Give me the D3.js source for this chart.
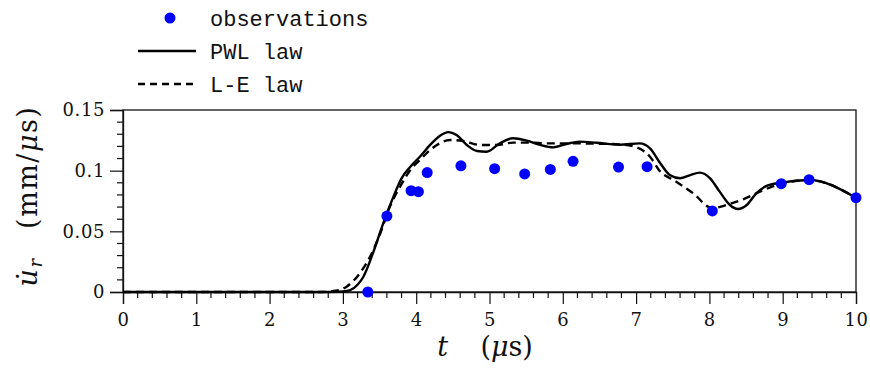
<!DOCTYPE html>
<html>
<head>
<meta charset="utf-8">
<script src="https://cdn.jsdelivr.net/npm/d3@7"></script>
<style>
  body { margin: 0; background: #fff; }
  svg { display: block; }
</style>
</head>
<body>
<svg id="chart" width="870" height="374"></svg>
<script>
// observations (blue dots)
const obsT = [3.34, 3.60, 3.93, 4.03, 4.15, 4.61, 5.07, 5.48, 5.83, 6.14, 6.76, 7.15, 8.04, 8.98, 9.36, 10.0];
const obsV = [0.0, 0.0626, 0.0835, 0.0827, 0.0984, 0.104, 0.1016, 0.0973, 0.101, 0.1077, 0.103, 0.1033, 0.0668, 0.0893, 0.0926, 0.0777];

// PWL law (solid)
const pwlT = [0, 2.8, 3.0, 3.1, 3.2, 3.28, 3.41, 3.55, 3.69, 3.80, 3.92, 4.05, 4.19, 4.32, 4.44, 4.55, 4.69, 4.83, 4.96, 5.14, 5.32, 5.51, 5.69, 5.87, 6.05, 6.23, 6.46, 6.78, 7.05, 7.19, 7.33, 7.46, 7.60, 7.74, 7.87, 8.01, 8.14, 8.28, 8.39, 8.51, 8.64, 8.78, 8.98, 9.36, 10];
const pwlV = [0, 0, 0.0005, 0.0016, 0.006, 0.0126, 0.032, 0.0566, 0.0786, 0.0937, 0.1033, 0.1115, 0.1212, 0.1286, 0.1318, 0.1294, 0.1212, 0.1162, 0.1156, 0.1225, 0.1267, 0.1247, 0.1212, 0.1192, 0.1220, 0.1239, 0.123, 0.1214, 0.1225, 0.1184, 0.1061, 0.0964, 0.0937, 0.0964, 0.0984, 0.0937, 0.0827, 0.0717, 0.0684, 0.0717, 0.0813, 0.0874, 0.0901, 0.0923, 0.0777];

// L-E law (dashed)
const leT = [0, 2.7, 2.9, 3.05, 3.23, 3.37, 3.51, 3.64, 3.78, 3.92, 4.05, 4.19, 4.32, 4.46, 4.64, 4.87, 5.10, 5.32, 5.55, 5.78, 6.01, 6.23, 6.46, 6.78, 7.01, 7.19, 7.33, 7.51, 7.78, 8.04, 8.23, 8.46, 8.69, 8.92, 9.36, 10];
const leV = [0, 0, 0.001, 0.0044, 0.0154, 0.029, 0.0484, 0.0703, 0.0868, 0.1006, 0.1088, 0.117, 0.1225, 0.1253, 0.1245, 0.1212, 0.1212, 0.1231, 0.1231, 0.1225, 0.1225, 0.1225, 0.1222, 0.1217, 0.1192, 0.1115, 0.0992, 0.0923, 0.0813, 0.069, 0.0717, 0.0764, 0.0827, 0.0882, 0.0923, 0.0777];

const xTicks = [0, 1, 2, 3, 4, 5, 6, 7, 8, 9, 10];
const yTicks = [0, 0.05, 0.1, 0.15];
const yTickLabels = ['0', '0.05', '0.1', '0.15'];
const legendNames = ['observations', 'PWL law', 'L-E law'];

const margin = {top: 110, right: 14, bottom: 82, left: 123};
const W = 870, H = 374;
const svg = d3.select('#chart');

const x = d3.scaleLinear().domain([0, 10]).range([margin.left, W - margin.right]);
const y = d3.scaleLinear().domain([0, 0.15]).range([H - margin.bottom, margin.top]);

const serif = '"DejaVu Serif", serif';
const mono = '"Liberation Mono", monospace';

// frame
svg.append('rect')
  .attr('x', x(0)).attr('y', y(0.15))
  .attr('width', x(10) - x(0)).attr('height', y(0) - y(0.15))
  .attr('fill', 'none').attr('stroke', '#111').attr('stroke-width', 1.3);

// minor ticks
const xMinor = d3.range(0, 10.001, 0.2).filter(v => Math.abs(v - Math.round(v)) > 1e-6);
const yMinor = d3.range(0, 0.1501, 0.01).filter(v => Math.abs(v / 0.05 - Math.round(v / 0.05)) > 1e-6);

const xAxis = svg.append('g').attr('transform', `translate(0, ${y(0)})`)
  .call(d3.axisBottom(x).tickValues(xTicks).tickSize(12).tickPadding(9).tickFormat(d3.format('d')));
xAxis.append('g').selectAll('line').data(xMinor).enter().append('line')
  .attr('x1', d => x(d)).attr('x2', d => x(d)).attr('y1', 0).attr('y2', 6);

const yAxis = svg.append('g').attr('transform', `translate(${x(0)}, 0)`)
  .call(d3.axisLeft(y).tickValues(yTicks).tickSize(13).tickPadding(5).tickFormat((d, i) => yTickLabels[i]));
yAxis.append('g').selectAll('line').data(yMinor).enter().append('line')
  .attr('x1', -6).attr('x2', 0).attr('y1', d => y(d)).attr('y2', d => y(d));

svg.selectAll('.domain').attr('stroke', '#111').attr('stroke-width', 1.3);
xAxis.selectAll('line').attr('stroke', '#111').attr('stroke-width', 1.2);
yAxis.selectAll('line').attr('stroke', '#111').attr('stroke-width', 1.2);
svg.selectAll('.tick text').attr('font-family', serif).attr('font-size', 18).attr('fill', '#111').attr('letter-spacing', 0.6);

// curves
const line = d3.line().x(d => x(d[0])).y(d => y(d[1])).curve(d3.curveMonotoneX);
const le = leT.map((t, i) => [t, leV[i]]);
const pwl = pwlT.map((t, i) => [t, pwlV[i]]);

svg.append('path').attr('d', line(le))
  .attr('fill', 'none').attr('stroke', '#000').attr('stroke-width', 2.4).attr('stroke-dasharray', '8,5');
svg.append('path').attr('d', line(pwl))
  .attr('fill', 'none').attr('stroke', '#000').attr('stroke-width', 2.4);

svg.append('g').selectAll('circle').data(obsT).enter().append('circle')
  .attr('cx', d => x(d)).attr('cy', (d, i) => y(obsV[i])).attr('r', 5.5).attr('fill', '#0000ff');

// legend
const legend = svg.append('g');
legend.append('circle').attr('cx', 170).attr('cy', 18).attr('r', 5.5).attr('fill', '#0000ff');
legend.append('line').attr('x1', 138).attr('x2', 196).attr('y1', 51).attr('y2', 51)
  .attr('stroke', '#000').attr('stroke-width', 2.4);
legend.append('line').attr('x1', 138).attr('x2', 196).attr('y1', 84).attr('y2', 84)
  .attr('stroke', '#000').attr('stroke-width', 2.4).attr('stroke-dasharray', '7,5');
legend.selectAll('text').data(legendNames).enter().append('text')
  .attr('x', 210).attr('y', (d, i) => 26 + i * 33)
  .attr('font-family', mono).attr('font-size', 22).attr('fill', '#111')
  .text(d => d);

// axis titles
const xt = svg.append('text').attr('x', 485).attr('y', 356).attr('text-anchor', 'middle')
  .attr('font-family', serif).attr('font-size', 27).attr('fill', '#111');
xt.append('tspan').attr('font-style', 'italic').text('t');
xt.append('tspan').text('\u2003\u2009(');
xt.append('tspan').attr('font-style', 'italic').text('\u03bc');
xt.append('tspan').text('s)');

const yt = svg.append('text').attr('transform', 'translate(37, 196) rotate(-90)').attr('text-anchor', 'middle')
  .attr('font-family', serif).attr('font-size', 27).attr('fill', '#111').attr('letter-spacing', 1.5);
yt.append('tspan').attr('font-style', 'italic').text('u\u0307');
yt.append('tspan').attr('font-style', 'italic').attr('font-size', 18).attr('dy', 5).text('r');
yt.append('tspan').attr('dy', -5).text('\u2003(mm/');
yt.append('tspan').attr('font-style', 'italic').text('\u03bc');
yt.append('tspan').text('s)');
</script>
</body>
</html>
